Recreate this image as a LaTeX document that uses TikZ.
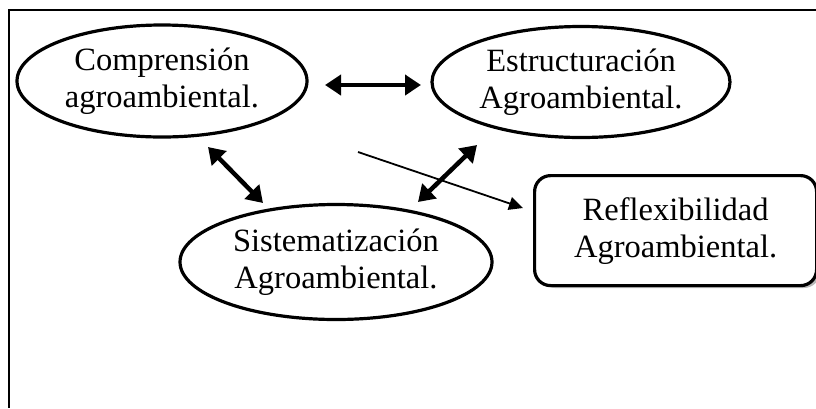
\documentclass[tikz,border=0pt]{standalone}
\usepackage{fontspec}
\setmainfont{Liberation Serif}
\usetikzlibrary{shapes.geometric,arrows.meta}
\begin{document}
\begin{tikzpicture}[x=1pt,y=-1pt,
  oval/.style={ellipse,draw,line width=3.2pt,inner sep=0pt,align=center,
    font=\fontsize{32.5}{37}\selectfont},
  rbox/.style={draw,line width=3.2pt,rounded corners=16pt,align=center,
    font=\fontsize{32.5}{37}\selectfont},
  dbl/.style={line width=4.5pt,{Triangle[length=16pt,width=20pt]}-{Triangle[length=16pt,width=20pt]}},
  single/.style={line width=1.8pt,-{Triangle[length=14pt,width=13pt]}}]
\useasboundingbox (0,0) rectangle (816,408);
\draw[line width=1.4pt] (816,10) -- (9,10) -- (9,408);
\node[oval,minimum width=290pt,minimum height=112pt] (c) at (162,81) {Comprensión\\agroambiental.};
\node[oval,minimum width=298pt,minimum height=111pt] (e) at (581,82) {Estructuración\\Agroambiental.};
\node[oval,minimum width=312pt,minimum height=115pt] (s) at (336,262) {Sistematización\\Agroambiental.};
\fill[gray!55] (539,180) [rounded corners=16pt] rectangle (820,288);
\node[rbox,fill=white,minimum width=282pt,minimum height=110pt,anchor=north west] (r) at (533,174) {Reflexibilidad\\Agroambiental.};
\coordinate (h1) at (325,85);
\coordinate (h2) at (421,85);
\coordinate (d1) at (208,147);
\coordinate (d2) at (263,203);
\coordinate (g1) at (477,145);
\coordinate (g2) at (418,202);
\coordinate (t1) at (358,152);
\coordinate (t2) at (523,208);
\draw[dbl] (h1) -- (h2);
\draw[dbl] (d1) -- (d2);
\draw[dbl] (g1) -- (g2);
\draw[single] (t1) -- (t2);
\end{tikzpicture}
\end{document}
